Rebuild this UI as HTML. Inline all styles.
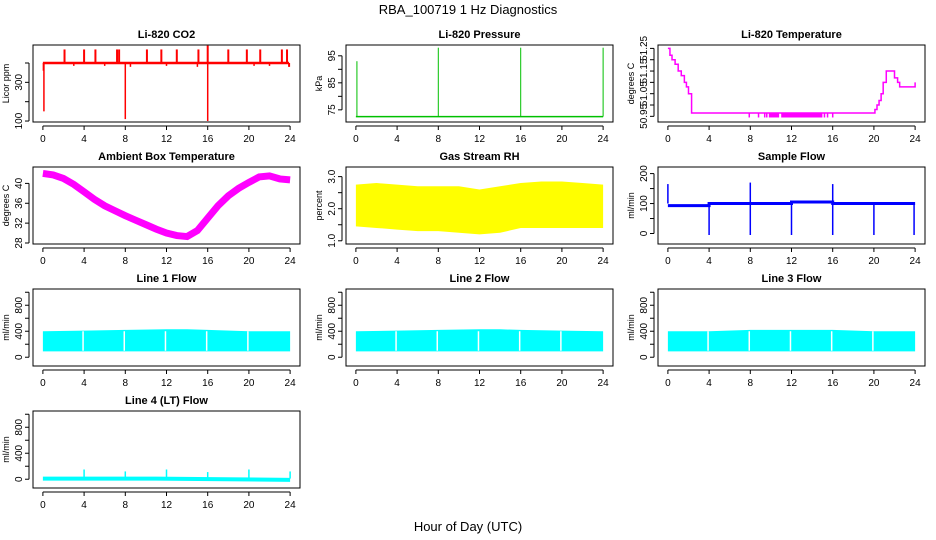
<!DOCTYPE html>
<html><head><meta charset="utf-8"><style>
html,body{margin:0;padding:0;background:#fff;}
svg{display:block;font-family:"Liberation Sans",Arial,sans-serif;}
</style></head><body>
<svg id="chart" width="936" height="540" viewBox="0 0 936 540" xmlns="http://www.w3.org/2000/svg">
<text x="468" y="14" text-anchor="middle" font-size="13">RBA_100719  1 Hz Diagnostics</text>
<text x="468" y="531" text-anchor="middle" font-size="13">Hour of Day (UTC)</text>
</svg>
<script>
// ---- data ----
const xTicks = [0,4,8,12,16,20,24];
// CO2
const co2Base = 400;
const co2SpikeHours = [2.1,4,5.1,7.2,7.4,10.1,11.5,13,15.1,16,18,19.8,21.1,23.2,23.7];
const co2SpikeVals  = [470,470,470,470,470,470,470,470,470,490,470,470,470,470,470];
const co2DipHours = [0.1,8,16,0.05,3,6,8.5,12,15,20.5,22];
const co2DipVals  = [150,110,100,360,385,385,380,385,380,385,385];
// Pressure
const presBase = 72.5;
const presSpikeHours = [0.1,8,16,24];
const presSpikeVals  = [93,98,98,98];
// Li-820 temperature (step points)
const liTempHours = [0,0.2,0.4,0.7,1,1.3,1.6,1.8,2,2.3,19.9,20.1,20.3,20.5,20.7,20.9,21.2,21.8,22,22.3,22.5,23.9,24];
const liTempVals  = [51.25,51.22,51.20,51.18,51.15,51.13,51.10,51.08,51.05,50.965,50.965,50.98,51.00,51.02,51.05,51.10,51.15,51.15,51.12,51.10,51.08,51.08,51.10];
const liDipHours = [7.9,8.8,9.4,9.6,15.2,15.5,16];
const liDipBandStart = [9.8, 11.0];
const liDipBandEnd   = [10.8, 15.0];
// Ambient box temperature
const ambHours = [0,1,2,3,4,5,6,7,8,9,10,11,12,13,14,15,16,17,18,19,20,21,22,23,24];
const ambVals  = [42,41.7,41,39.8,38.3,36.8,35.5,34.5,33.5,32.6,31.7,30.8,30,29.5,29.3,30.5,33,35.5,37.5,39,40.2,41.3,41.5,40.9,40.7];
// Gas stream RH band
const rhHours = [0,2,4,6,8,10,12,14,16,18,20,22,24];
const rhLow   = [1.45,1.4,1.35,1.3,1.3,1.25,1.2,1.25,1.4,1.4,1.4,1.4,1.4];
const rhHigh  = [2.75,2.8,2.75,2.7,2.7,2.7,2.6,2.7,2.8,2.85,2.85,2.8,2.75];
// Sample flow
const sfHours = [0,4,8,12,16,20,24];
const sfVals  = [93,100,100,105,100,100,100];
const sfSpikeHours = [0,8,16];
const sfSpikeVals  = [165,170,165];
const sfDipHours = [4,8,12,16,20,23.9];
const sfDipVals  = [-5,-5,-5,-5,-5,-5];
// Line flows
const lineHours = [0,4,8,12,14,16,20,24];
const line1High = [400,410,420,430,430,420,400,400];
const line2High = [400,410,420,430,430,420,410,400];
const line3High = [400,400,420,420,420,420,400,400];
const lineLow = 90;
const lineGapHours = [4,8,12,16,20];
const line4Hours = [0,11,24];
const line4Vals  = [10,10,-10];
const line4SpikeHours = [4,8,12,16,20,24];
const line4SpikeVals  = [150,120,150,110,150,120];

// ---- layout ----
const svg = document.getElementById('chart');
const NS = 'http://www.w3.org/2000/svg';
const colX = [33,346,658], rowY = [45,167,289,411], PW = 267, PH = 77;
function mk(tag, attrs, parent){
  const e = document.createElementNS(NS, tag);
  for (const k in attrs) e.setAttribute(k, attrs[k]);
  (parent||svg).appendChild(e); return e;
}
function panel(name, col, row, title, ylab, ymin, ymax, ticks, labels, dec){
  const g = mk('g', {});
  
  
  const L = colX[col], T = rowY[row];
  const xs = h => L + PW*(h + 0.96)/25.92;
  const ys = v => T + PH - PH*(v - ymin)/(ymax - ymin);
  const box = mk('rect', {x:L, y:T, width:PW, height:PH, fill:'none', stroke:'#000', 'stroke-width':1}, g);
  
  
  const t = mk('text', {x:L+PW/2, y:T-7, 'text-anchor':'middle', 'font-size':11, 'font-weight':'bold'}, g);
  t.textContent = title;
  
  
  const xa = mk('g', {}, g);
  
  
  mk('line', {x1:xs(0), x2:xs(24), y1:T+PH+4, y2:T+PH+4, stroke:'#000'}, xa);
  xTicks.forEach(v => {
    mk('line', {x1:xs(v), x2:xs(v), y1:T+PH+4, y2:T+PH+8, stroke:'#000'}, xa);
    const tx = mk('text', {x:xs(v), y:T+PH+20, 'text-anchor':'middle', 'font-size':10}, xa);
    tx.textContent = v;
  });
  const ya = mk('g', {}, g);
  
  
  mk('line', {x1:L-4, x2:L-4, y1:ys(ticks[0]), y2:ys(ticks[ticks.length-1]), stroke:'#000'}, ya);
  ticks.forEach(v => mk('line', {x1:L-8, x2:L-4, y1:ys(v), y2:ys(v), stroke:'#000'}, ya));
  labels.forEach(v => {
    const tx = mk('text', {x:L-11, y:ys(v), 'text-anchor':'middle', 'font-size':10, transform:`rotate(-90 ${L-11} ${ys(v)})`}, ya);
    tx.textContent = dec ? v.toFixed(dec) : v;
  });
  const yl = mk('text', {x:L-24, y:T+PH/2, 'text-anchor':'middle', 'font-size':9, transform:`rotate(-90 ${L-24} ${T+PH/2})`}, g);
  yl.textContent = ylab;
  
  
  return {g, xs, ys};
}
function vline(p, h, v1, v2, color, w, nm){
  const l = mk('line', {x1:p.xs(h), x2:p.xs(h), y1:p.ys(v1), y2:p.ys(v2), stroke:color, 'stroke-width':w||1}, p.g);
  
  
}
function poly(p, pts, color, w, nm, step){
  let d = '';
  pts.forEach((q,i) => {
    if (i === 0) d += `M${p.xs(q[0])},${p.ys(q[1])}`;
    else if (step) d += `H${p.xs(q[0])}V${p.ys(q[1])}`;
    else d += `L${p.xs(q[0])},${p.ys(q[1])}`;
  });
  const e = mk('path', {d, fill:'none', stroke:color, 'stroke-width':w}, p.g);
  
  
}
function band(p, hours, lo, hi, color, nm){
  let d = '';
  hours.forEach((h,i) => d += (i?'L':'M') + p.xs(h) + ',' + p.ys(hi[i]));
  for (let i = hours.length-1; i >= 0; i--) d += 'L' + p.xs(hours[i]) + ',' + p.ys(lo[i]);
  const e = mk('path', {d: d+'Z', fill:color, stroke:'none'}, p.g);
  
  
}

// CO2
let p = panel('co2', 0, 0, 'Li-820 CO2', 'Licor ppm', 95, 493, [100,200,300,400], [100,300]);
poly(p, [[0,co2Base],[23.9,co2Base]], '#f00', 2.5, 'co2-line');
vline(p, 23.9, co2Base, 380, '#f00', 2, 'co2-end');
co2SpikeHours.forEach((h,i) => vline(p, h, co2Base, co2SpikeVals[i], '#f00', 2, 'co2-spike'));
co2DipHours.forEach((h,i) => vline(p, h, co2Base, co2DipVals[i], '#f00', 1.5, 'co2-dip'));
// Pressure
p = panel('pressure', 1, 0, 'Li-820 Pressure', 'kPa', 70.5, 99, [75,80,85,90,95], [75,85,95]);
poly(p, [[0,presBase],[24,presBase]], '#00c000', 1.5, 'pressure-line');
presSpikeHours.forEach((h,i) => vline(p, h, presBase, presSpikeVals[i], '#00c000', 1, 'pressure-spike'));
// Li temp
p = panel('li-temp', 2, 0, 'Li-820 Temperature', 'degrees C', 50.925, 51.265, [50.95,51.0,51.05,51.1,51.15,51.2,51.25], [50.95,51.05,51.15,51.25], 2);
poly(p, liTempHours.map((h,i)=>[h,liTempVals[i]]), '#f0f', 1.5, 'li-temp-line', true);
liDipHours.forEach(h => vline(p, h, 50.965, 50.945, '#f0f', 1.5, 'li-temp-dip'));
liDipBandStart.forEach((h,i) => band(p, [h, liDipBandEnd[i]], [50.945,50.945], [50.965,50.965], '#f0f', 'li-temp-dip-block'));
// Ambient
p = panel('ambient-temp', 0, 1, 'Ambient Box Temperature', 'degrees C', 27.8, 43.3, [28,32,36,40], [28,32,36,40]);
poly(p, ambHours.map((h,i)=>[h,ambVals[i]]), '#f0f', 7, 'ambient-temp-line');
// RH
p = panel('rh', 1, 1, 'Gas Stream RH', 'percent', 0.9, 3.3, [1.0,1.5,2.0,2.5,3.0], [1.0,2.0,3.0], 1);
band(p, rhHours, rhLow, rhHigh, '#ff0', 'rh-band');
// Sample flow
p = panel('sample-flow', 2, 1, 'Sample Flow', 'ml/min', -35, 222, [0,50,100,150,200], [0,100,200]);
poly(p, sfHours.map((h,i)=>[h,sfVals[i]]), '#00f', 3, 'sample-flow-line', true);
sfSpikeHours.forEach((h,i) => vline(p, h, 100, sfSpikeVals[i], '#00f', 1.5, 'sample-flow-spike'));
sfDipHours.forEach((h,i) => vline(p, h, 100, sfDipVals[i], '#00f', 1.5, 'sample-flow-dip'));
// Line flows
const lineDefs = [['line1-flow',0,'Line 1 Flow',line1High],['line2-flow',1,'Line 2 Flow',line2High],['line3-flow',2,'Line 3 Flow',line3High]];
lineDefs.forEach(ld => {
  const q = panel(ld[0], ld[1], 2, ld[2], 'ml/min', -135, 1050, [0,200,400,600,800,1000], [0,400,800]);
  band(q, lineHours, lineHours.map(()=>lineLow), ld[3], '#0ff', ld[0]+'-band');
  lineGapHours.forEach(h => vline(q, h-0.1, lineLow+10, 400, '#fff', 1.5, ld[0]+'-gap'));
});
// Line 4
p = panel('line4-flow', 0, 3, 'Line 4 (LT) Flow', 'ml/min', -135, 1050, [0,200,400,600,800,1000], [0,400,800]);
poly(p, line4Hours.map((h,i)=>[h,line4Vals[i]]), '#0ff', 4, 'line4-flow-line');
line4SpikeHours.forEach((h,i) => vline(p, h, 10, line4SpikeVals[i], '#0ff', 1.5, 'line4-flow-spike'));
</script>
</body></html>
